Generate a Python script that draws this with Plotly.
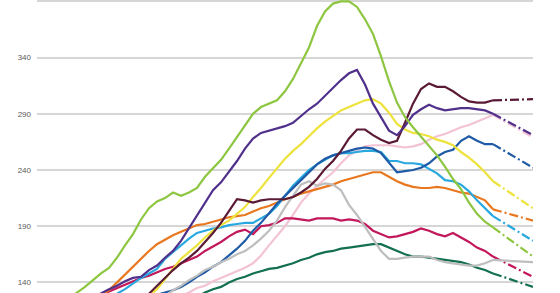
import plotly.graph_objects as go

# period index (actual data 0..57, forecast to 62)
periods = list(range(58))
forecast_periods = [57, 62]

green = [102, 108, 114, 120, 126, 131, 136, 142, 148, 153,
         162, 173, 183, 196, 206, 212, 215, 220, 217, 220,
         224, 234, 242, 249, 259, 269, 279, 290, 296, 299,
         302, 310, 321, 335, 349, 368, 381, 388, 390, 390,
         385, 374, 361, 341, 319, 300, 287, 278, 270, 261,
         253, 243, 232, 223, 211, 201, 194, 189]
purple = [100] + [None] * 8 + [
    134, 137, 141, 144, 145, 151, 155, 162, 168, 177,
    188, 200, 211, 222, 229, 238, 248, 259, 268, 273,
    275, 277, 279, 282, 288, 294, 299, 306, 313, 320,
    326, 329, 316, 299, 287, 275, 271, 279, 289, 294,
    298, 295, 293, 294, 295, 295, 294, 293, 290]
yellow = [100] + [None] * 13 + [
    128, 134, 143, 152, 161, 167, 173, 180, 186, 191,
    195, 201, 207, 216, 224, 233, 242, 250, 257, 263,
    270, 277, 283, 288, 293, 296, 299, 302, 303, 299,
    291, 281, 276, 273, 272, 270, 267, 265, 262, 256,
    251, 245, 238, 230]
maroon = [100] + [None] * 12 + [
    127, 130, 137, 144, 151, 157, 162, 168, 176, 184,
    193, 204, 214, 213, 211, 213, 214, 214, 214, 216,
    220, 225, 232, 241, 248, 257, 268, 276, 276, 271,
    267, 264, 266, 282, 299, 312, 317, 314, 314, 310,
    305, 301, 300, 300, 302]
blue = [100] + [None] * 13 + [
    124, 129, 131, 133, 136, 140, 145, 149, 154, 158,
    164, 170, 177, 186, 193, 202, 210, 217, 224, 231,
    238, 245, 250, 253, 255, 257, 259, 260, 259, 255,
    246, 238, 239, 240, 242, 246, 252, 256, 258, 266,
    270, 266, 263, 263]
cyan = [100] + [None] * 9 + [
    130, 134, 139, 144, 148, 152, 161, 167, 173, 179,
    184, 186, 188, 189, 191, 192, 193, 193, 197, 201,
    208, 217, 226, 233, 240, 245, 249, 253, 255, 255,
    256, 257, 257, 256, 248, 248, 246, 246, 245, 241,
    237, 231, 230, 227, 221, 213, 206, 199]
orange = [100] + [None] * 7 + [
    128, 133, 140, 147, 154, 161, 168, 174, 178, 182,
    185, 188, 191, 192, 194, 196, 198, 199, 200, 203,
    206, 208, 211, 214, 216, 219, 221, 223, 225, 227,
    230, 232, 234, 236, 238, 238, 234, 230, 227, 225,
    224, 224, 225, 224, 222, 220, 219, 216, 213, 205]
pink = [100] + [None] * 17 + [
    128, 131, 135, 137, 141, 144, 147, 150, 153, 157,
    164, 173, 181, 190, 200, 211, 219, 226, 232, 238,
    246, 253, 257, 261, 262, 262, 262, 261, 260, 261,
    263, 267, 270, 272, 275, 278, 280, 283, 286, 289]
crimson = [100] + [None] * 7 + [
    127, 132, 135, 138, 141, 144, 146, 149, 152, 154,
    157, 160, 163, 168, 172, 176, 181, 185, 187, 183,
    190, 191, 193, 197, 197, 196, 195, 197, 197, 197,
    195, 196, 195, 192, 186, 183, 180, 181, 183, 185,
    188, 186, 183, 181, 184, 180, 176, 171, 168, 163]
gray = [100] + [None] * 15 + [
    128, 133, 137, 142, 146, 151, 154, 158, 161, 165,
    168, 173, 179, 186, 195, 207, 217, 227, 230, 226,
    228, 227, 222, 209, 200, 189, 179, 168, 161, 161,
    162, 163, 163, 163, 160, 158, 157, 156, 155, 155,
    157, 160]
darkgreen = [100] + [None] * 18 + [
    124, 127, 131, 134, 136, 140, 143, 145, 148, 150,
    152, 153, 155, 157, 160, 162, 165, 167, 168, 170,
    171, 172, 173, 174, 174, 171, 168, 165, 163, 163,
    162, 161, 160, 159, 158, 156, 153, 151, 148]

# forecast end values
forecast_end = {
    "darkgreen": 136, "gray": 158, "pink": 269, "crimson": 145,
    "orange": 195, "cyan": 177, "blue": 242, "yellow": 206,
    "maroon": 303, "purple": 271, "green": 163,
}

tick_values = [140, 190, 240, 290, 340, 390]
tick_labels = ["140", "190", "240", "290", "340", "390"]

series = [
    ("darkgreen", darkgreen, "#13704F", True),
    ("pink", pink, "#F3C3D5", True),
    ("crimson", crimson, "#C2185B", True),
    ("orange", orange, "#E8771F", True),
    ("cyan", cyan, "#29A8E0", True),
    ("blue", blue, "#1E5AA5", True),
    ("gray", gray, "#BEBEBE", False),
    ("yellow", yellow, "#EEE23C", True),
    ("maroon", maroon, "#5A1A35", True),
    ("purple", purple, "#51308C", True),
    ("green", green, "#8DC640", True),
]

fig = go.Figure()
for name, vals, color, dashed in series:
    fig.add_trace(go.Scatter(
        x=periods, y=vals, mode="lines", connectgaps=True,
        line=dict(color=color, width=2.2), showlegend=False, hoverinfo="skip"))
    fig.add_trace(go.Scatter(
        x=forecast_periods, y=[vals[-1], forecast_end[name]], mode="lines",
        line=dict(color=color, width=2.2,
                  dash="9px,3px,2px,3px" if dashed else "solid"),
        showlegend=False, hoverinfo="skip"))

fig.update_layout(
    width=560, height=293,
    margin=dict(l=37, r=27, t=0, b=0),
    paper_bgcolor="white", plot_bgcolor="white",
    xaxis=dict(range=[0, 62], showgrid=False, zeroline=False,
               showticklabels=False, showline=False, ticks=""),
    yaxis=dict(range=[130.6, 391.2], tickvals=tick_values, ticktext=tick_labels,
               showgrid=True, gridcolor="#D6D6D6", gridwidth=1.5,
               zeroline=False, showline=False, ticks="",
               ticklabelstandoff=5,
               tickfont=dict(family="Liberation Sans, Arial", size=8, color="#5A5A5A")),
)

fig.write_html("out.html")
